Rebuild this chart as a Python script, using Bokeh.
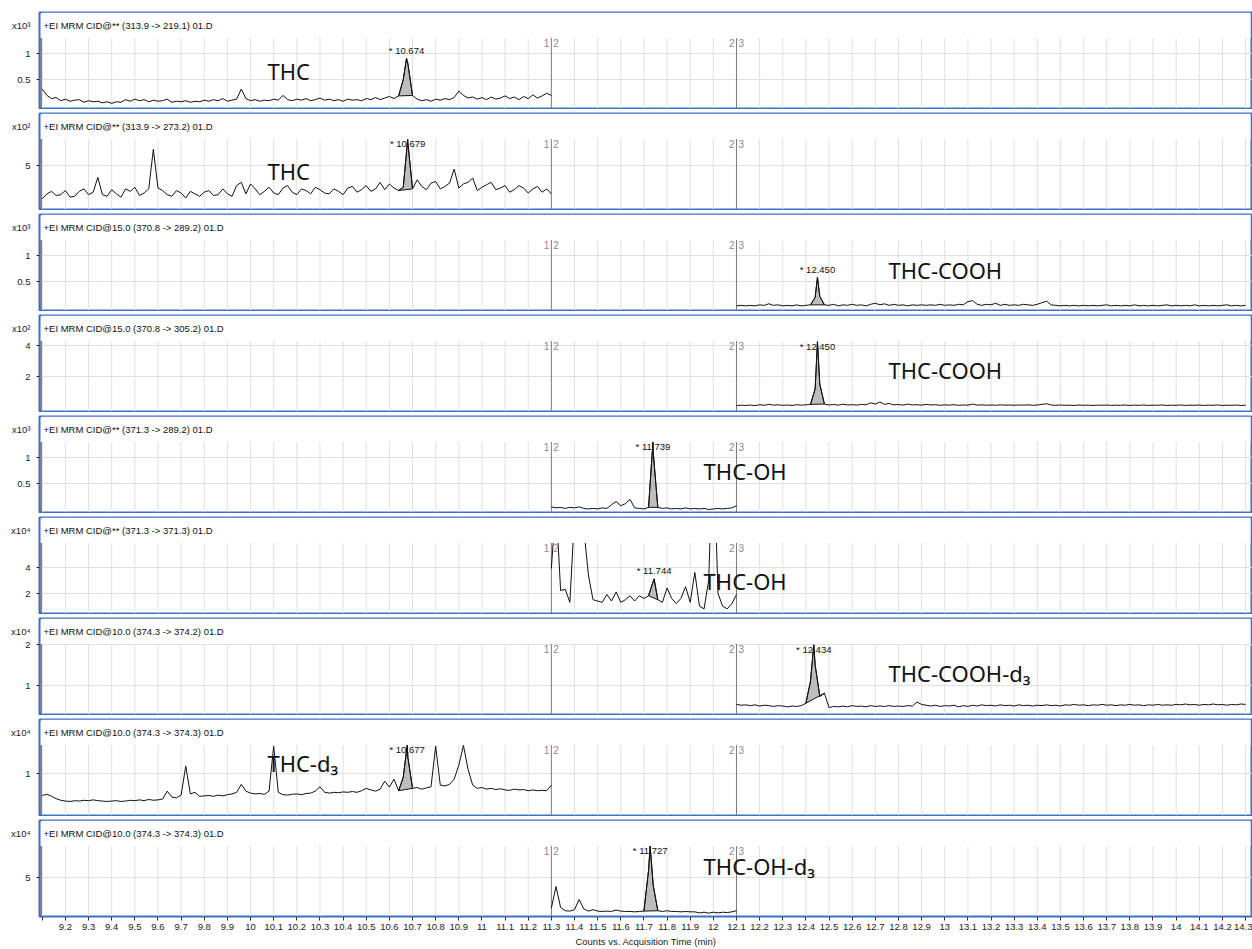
import numpy as np
from bokeh.plotting import figure
from bokeh.layouts import column
from bokeh.models import Range1d, FixedTicker, CustomJSTickFormatter, Label, BoxAnnotation
from bokeh.embed import file_html
from bokeh.resources import INLINE

# ---------------- data ----------------
channel_labels = [
    "+EI MRM CID@** (313.9 -> 219.1) 01.D",
    "+EI MRM CID@** (313.9 -> 273.2) 01.D",
    "+EI MRM CID@15.0 (370.8 -> 289.2) 01.D",
    "+EI MRM CID@15.0 (370.8 -> 305.2) 01.D",
    "+EI MRM CID@** (371.3 -> 289.2) 01.D",
    "+EI MRM CID@** (371.3 -> 371.3) 01.D",
    "+EI MRM CID@10.0 (374.3 -> 374.2) 01.D",
    "+EI MRM CID@10.0 (374.3 -> 374.3) 01.D",
    "+EI MRM CID@10.0 (374.3 -> 374.3) 01.D",
]
compound_labels = ["THC", "THC", "THC-COOH", "THC-COOH", "THC-OH", "THC-OH",
                   "THC-COOH-d\u2083", "THC-d\u2083", "THC-OH-d\u2083"]
exponent_labels = ["x10\u00b3", "x10\u00b2", "x10\u00b3", "x10\u00b2", "x10\u00b3",
                   "x10\u2074", "x10\u2074", "x10\u2074", "x10\u2074"]
y_ticks = [[0.5, 1], [5], [0.5, 1], [2, 4], [0.5, 1], [2, 4], [1, 2], [1], [5]]
y_low = [-0.047, -0.30, -0.047, -0.26, -0.047, 0.44, 0.27, -0.063, -0.345]
y_high = [1.283, 8.25, 1.283, 4.29, 1.283, 5.86, 2.02, 1.71, 9.39]
segment_of_trace = [1, 1, 3, 3, 2, 2, 3, 1, 2]
segment_start = {1: 9.10, 2: 11.30, 3: 12.10}
sample_step = 0.02

peak_rt = [10.674, 10.679, 12.450, 12.450, 11.739, 11.744, 12.434, 10.677, 11.727]
peak_height = [0.90, 8.2, 0.58, 4.25, 1.28, 3.1, 2.0, 1.70, 9.38]
fill_start = [10.64, 10.64, 12.42, 12.42, 11.72, 11.72, 12.40, 10.64, 11.70]
fill_end = [10.70, 10.70, 12.48, 12.48, 11.76, 11.76, 12.48, 10.70, 11.76]

segment_bounds = [11.3, 12.1]
segment_names = [("1", "2"), ("2", "3")]
x_ticks = [round(9.1 + 0.1 * k, 1) for k in range(53)]
x_title = "Counts vs. Acquisition Time (min)"

thc_219 = [
    0.32, 0.20, 0.14, 0.16, 0.10, 0.13, 0.09, 0.11, 0.12, 0.07,
    0.10, 0.08, 0.09, 0.06, 0.08, 0.05, 0.08, 0.07, 0.12, 0.09,
    0.13, 0.10, 0.12, 0.08, 0.11, 0.09, 0.10, 0.13, 0.07, 0.09,
    0.08, 0.10, 0.07, 0.09, 0.08, 0.11, 0.09, 0.12, 0.10, 0.14,
    0.09, 0.11, 0.13, 0.32, 0.14, 0.10, 0.12, 0.09, 0.11, 0.10,
    0.13, 0.11, 0.20, 0.12, 0.10, 0.13, 0.11, 0.14, 0.10, 0.12,
    0.15, 0.11, 0.13, 0.10, 0.12, 0.09, 0.13, 0.11, 0.12, 0.10,
    0.14, 0.12, 0.16, 0.12, 0.15, 0.18, 0.14, 0.19, 0.50, 0.80,
    0.20, 0.13, 0.10, 0.12, 0.09, 0.13, 0.11, 0.14, 0.12, 0.16,
    0.28, 0.20, 0.15, 0.17, 0.13, 0.16, 0.12, 0.17, 0.13, 0.15,
    0.19, 0.14, 0.17, 0.12, 0.18, 0.14, 0.21, 0.15, 0.19, 0.24,
    0.20,
]
thc_273 = [
    1.0, 1.6, 1.9, 1.4, 1.5, 2.0, 1.2, 1.3, 1.9, 2.2,
    1.5, 1.8, 3.6, 1.5, 1.3, 2.1, 1.6, 1.2, 2.2, 1.9,
    2.4, 1.4, 1.7, 2.2, 7.0, 2.3, 2.0, 1.5, 1.3, 2.0,
    1.7, 1.1, 1.9, 1.6, 1.3, 1.8, 2.0, 1.4, 1.5, 2.2,
    1.6, 1.3, 2.6, 3.0, 1.6, 2.8, 2.2, 1.5, 1.9, 2.4,
    1.7, 1.5, 2.3, 2.6, 1.8, 1.5, 2.2, 2.0, 1.6, 2.4,
    2.1, 1.7, 1.6, 2.2, 1.9, 1.5, 2.3, 2.5, 1.8, 2.1,
    2.6, 1.9, 2.2, 3.0, 2.1, 2.8, 2.3, 2.0, 2.4, 7.8,
    2.2, 3.3, 2.5, 2.1, 2.9, 3.1, 2.2, 2.5, 2.9, 4.6,
    2.3, 2.8, 3.0, 3.5, 2.0, 2.4, 2.7, 3.0, 2.1, 2.3,
    2.6, 1.8, 2.1, 2.6, 2.3, 1.7, 2.2, 2.5, 1.8, 2.2,
    1.6,
]
thccooh_289 = [
    0.04, 0.05, 0.04, 0.05, 0.04, 0.06, 0.05, 0.08, 0.05, 0.06,
    0.04, 0.05, 0.04, 0.06, 0.04, 0.05, 0.06, 0.20, 0.22, 0.06,
    0.05, 0.07, 0.04, 0.06, 0.05, 0.07, 0.05, 0.06, 0.04, 0.07,
    0.09, 0.06, 0.08, 0.05, 0.07, 0.05, 0.06, 0.04, 0.06, 0.05,
    0.06, 0.05, 0.06, 0.05, 0.07, 0.05, 0.06, 0.05, 0.07, 0.06,
    0.12, 0.14, 0.07, 0.05, 0.07, 0.06, 0.09, 0.05, 0.07, 0.05,
    0.06, 0.05, 0.07, 0.06, 0.05, 0.07, 0.10, 0.13, 0.06, 0.05,
    0.04, 0.05, 0.04, 0.05, 0.04, 0.05, 0.04, 0.05, 0.04, 0.05,
    0.06, 0.04, 0.05, 0.04, 0.05, 0.04, 0.06, 0.04, 0.05, 0.04,
    0.05, 0.04, 0.05, 0.06, 0.04, 0.05, 0.04, 0.05, 0.04, 0.06,
    0.04, 0.05, 0.04, 0.05, 0.04, 0.05, 0.06, 0.04, 0.05, 0.04,
    0.05,
]
thccooh_305 = [
    0.12, 0.15, 0.13, 0.16, 0.12, 0.18, 0.14, 0.20, 0.15, 0.17,
    0.14, 0.16, 0.13, 0.18, 0.15, 0.17, 0.20, 1.20, 1.50, 0.22,
    0.16, 0.19, 0.15, 0.21, 0.16, 0.18, 0.15, 0.20, 0.17, 0.30,
    0.22, 0.35, 0.20, 0.26, 0.17, 0.19, 0.15, 0.22, 0.16, 0.18,
    0.15, 0.20, 0.16, 0.18, 0.14, 0.17, 0.15, 0.18, 0.14, 0.16,
    0.15, 0.22, 0.15, 0.17, 0.14, 0.16, 0.14, 0.17, 0.15, 0.16,
    0.14, 0.16, 0.15, 0.17, 0.14, 0.16, 0.20, 0.24, 0.16, 0.14,
    0.16, 0.14, 0.15, 0.13, 0.16, 0.14, 0.15, 0.13, 0.15, 0.14,
    0.16, 0.13, 0.15, 0.14, 0.16, 0.13, 0.15, 0.14, 0.16, 0.13,
    0.15, 0.14, 0.16, 0.13, 0.15, 0.14, 0.16, 0.13, 0.15, 0.14,
    0.16, 0.13, 0.15, 0.14, 0.16, 0.13, 0.15, 0.14, 0.16, 0.13,
    0.15,
]
thcoh_289 = [
    0.06, 0.04, 0.05, 0.03, 0.05, 0.04, 0.06, 0.03, 0.02, 0.03,
    0.02, 0.04, 0.03, 0.10, 0.16, 0.08, 0.12, 0.20, 0.04, 0.03,
    0.02, 0.05, 1.10, 0.05, 0.03, 0.04, 0.02, 0.03, 0.02, 0.04,
    0.02, 0.03, 0.02, 0.03, 0.01, 0.02, 0.03, 0.02, 0.03, 0.04,
    0.08,
]
thcoh_371 = [
    3.9, 9.0, 2.2, 2.3, 1.3, 8.0, 12.0, 7.0, 3.4, 1.5,
    1.4, 1.3, 1.9, 1.4, 2.1, 1.3, 1.5, 1.8, 1.4, 1.8,
    1.6, 1.8, 2.9, 1.5, 1.3, 2.4, 1.6, 1.2, 1.6, 2.5,
    1.3, 3.6, 1.0, 0.8, 3.0, 14.0, 2.0, 1.0, 0.8, 1.2,
    1.9,
]
thccooh_d3 = [
    0.52, 0.50, 0.51, 0.49, 0.51, 0.48, 0.50, 0.49, 0.47, 0.49,
    0.48, 0.46, 0.48, 0.47, 0.49, 0.55, 1.10, 1.50, 0.72, 0.80,
    0.44, 0.47, 0.46, 0.48, 0.46, 0.49, 0.47, 0.48, 0.46, 0.49,
    0.47, 0.48, 0.47, 0.49, 0.47, 0.48, 0.47, 0.49, 0.48, 0.58,
    0.52, 0.50, 0.48, 0.50, 0.47, 0.49, 0.48, 0.50, 0.46, 0.49,
    0.47, 0.50, 0.48, 0.51, 0.49, 0.50, 0.48, 0.51, 0.49, 0.50,
    0.48, 0.51, 0.49, 0.50, 0.48, 0.50, 0.49, 0.51, 0.49, 0.50,
    0.48, 0.51, 0.50, 0.52, 0.50, 0.51, 0.49, 0.51, 0.50, 0.52,
    0.50, 0.51, 0.49, 0.51, 0.50, 0.52, 0.50, 0.51, 0.49, 0.51,
    0.50, 0.52, 0.50, 0.51, 0.50, 0.52, 0.51, 0.53, 0.51, 0.52,
    0.50, 0.52, 0.51, 0.53, 0.51, 0.52, 0.50, 0.52, 0.51, 0.53,
    0.52,
]
thc_d3 = [
    0.44, 0.47, 0.42, 0.36, 0.32, 0.30, 0.29, 0.31, 0.30, 0.32,
    0.31, 0.33, 0.31, 0.30, 0.29, 0.30, 0.31, 0.29, 0.30, 0.32,
    0.31, 0.33, 0.31, 0.34, 0.32, 0.33, 0.35, 0.55, 0.40, 0.38,
    0.45, 1.18, 0.48, 0.52, 0.42, 0.43, 0.44, 0.42, 0.45, 0.43,
    0.46, 0.48, 0.52, 0.72, 0.55, 0.50, 0.48, 0.49, 0.47, 0.55,
    1.68, 0.52, 0.46, 0.45, 0.47, 0.48, 0.46, 0.49, 0.50, 0.55,
    0.66, 0.52, 0.50, 0.52, 0.51, 0.53, 0.52, 0.54, 0.52, 0.56,
    0.62, 0.58, 0.55, 0.60, 0.80, 0.65, 0.85, 0.56, 0.90, 1.40,
    0.62, 0.64, 0.60, 0.63, 0.66, 1.68, 0.70, 0.68, 0.72, 0.85,
    1.20, 1.70, 1.10, 0.70, 0.62, 0.64, 0.60, 0.62, 0.59, 0.61,
    0.58, 0.57, 0.60, 0.58, 0.59, 0.56, 0.58, 0.56, 0.57, 0.56,
    0.70,
]
thcoh_d3 = [
    0.8, 3.8, 0.9, 0.45, 0.4, 0.6, 2.0, 0.7, 0.4, 0.6,
    0.4, 0.35, 0.4, 0.35, 0.55, 0.4, 0.35, 0.35, 0.3, 0.35,
    0.4, 6.0, 4.0, 0.45, 0.35, 0.45, 0.35, 0.35, 0.3, 0.35,
    0.3, 0.3, 0.15, 0.25, 0.12, 0.25, 0.15, 0.25, 0.2, 0.3,
    0.45,
]
traces = [thc_219, thc_273, thccooh_289, thccooh_305, thcoh_289,
          thcoh_371, thccooh_d3, thc_d3, thcoh_d3]

# ---------------- layout / style ----------------
X0, X1 = 9.088, 14.33
W = 1252
LEFT = 39
FRAME_H = 96.0
DATA_H = 70.5
BLUE = "#3d6fc6"
GRID = "#e0e0e0"
NARROW = "Liberation Sans Narrow, Liberation Sans, Arial"
BIG = "Noto Sans"
label_left = [10.073, 10.073, 12.757, 12.757, 11.958, 11.958, 12.757, 10.073, 11.958]
label_drop = [58, 57, 55, 54, 54, 63, 54, 43, 45]

x_fmt = CustomJSTickFormatter(
    code="if (Math.abs(tick - 9.1) < 1e-6) { return ''; } return String(Number(tick.toFixed(1)));")

figs = []
for i in range(9):
    first = (i == 0)
    last = (i == 8)
    lo, hi = y_low[i], y_high[i]
    ftop = lo + (hi - lo) * FRAME_H / DATA_H
    upp = (ftop - lo) / FRAME_H
    xupp = (X1 - X0) / (W - LEFT)
    top_b = 12 if first else 4
    bot_b = 33 if last else 1
    p = figure(width=W, height=int(top_b + FRAME_H + bot_b),
               x_range=Range1d(X0, X1), y_range=Range1d(lo, ftop),
               output_backend="svg", toolbar_location=None,
               min_border_left=LEFT, min_border_right=0, min_border_top=top_b,
               min_border_bottom=bot_b,
               x_axis_location=("below" if last else None))
    p.outline_line_color = BLUE
    p.outline_line_width = 2
    p.background_fill_color = "white"
    p.border_fill_color = "white"
    p.xgrid.visible = False
    p.ygrid.ticker = FixedTicker(ticks=y_ticks[i], minor_ticks=[])
    p.ygrid.grid_line_color = GRID

    # y axis: numeric ticks + the scale-exponent label in the header band
    band = ftop - 13 * upp
    yax = p.yaxis[0]
    yax.ticker = FixedTicker(ticks=y_ticks[i] + [band], minor_ticks=y_ticks[i])
    yax.formatter = CustomJSTickFormatter(
        args=dict(band=band, lab=exponent_labels[i]),
        code="if (Math.abs(tick - band) < 1e-9) { return lab; } return String(Number(tick.toFixed(2)));")
    yax.bounds = (lo, ftop)
    yax.axis_line_color = None
    yax.major_tick_out = 0
    yax.major_tick_in = 0
    yax.minor_tick_out = 3
    yax.minor_tick_in = 0
    yax.minor_tick_line_color = "#222222"
    yax.major_label_standoff = 6
    yax.major_label_text_font = NARROW
    yax.major_label_text_font_size = "9.5px"
    yax.major_label_text_color = "#222222"

    if last:
        xax = p.xaxis[0]
        xax.ticker = FixedTicker(ticks=x_ticks, minor_ticks=[])
        xax.formatter = x_fmt
        xax.axis_line_color = None
        xax.major_tick_out = 4
        xax.major_tick_in = 0
        xax.major_tick_line_color = "#333333"
        xax.major_label_standoff = 3
        xax.major_label_text_font = NARROW
        xax.major_label_text_font_size = "9.5px"
        xax.major_label_text_color = "#222222"
        xax.axis_label = x_title
        xax.axis_label_standoff = 3
        xax.axis_label_text_font = NARROW
        xax.axis_label_text_font_size = "9.5px"
        xax.axis_label_text_font_style = "normal"
        xax.axis_label_text_color = "#222222"

    # vertical grid lines limited to the data area
    vg = [t for t in x_ticks if all(abs(t - b) > 1e-6 for b in segment_bounds)]
    p.segment(x0=vg, y0=[lo] * len(vg), x1=vg, y1=[hi] * len(vg),
              line_color=GRID, line_width=1)
    # segment boundaries
    p.segment(x0=segment_bounds, y0=[lo] * 2, x1=segment_bounds, y1=[hi] * 2,
              line_color="#7a7a7a", line_width=1)
    # dark y-axis line along the data area
    p.segment(x0=[X0 + 1.6 * xupp], y0=[lo], x1=[X0 + 1.6 * xupp], y1=[hi],
              line_color="#333333", line_width=1)

    # trace
    vals = np.array(traces[i], dtype=float)
    t = np.round(segment_start[segment_of_trace[i]] + sample_step * np.arange(len(vals)), 3)
    t = np.append(t, peak_rt[i])
    vals = np.append(vals, peak_height[i])
    order = np.argsort(t, kind="stable")
    t, vals = t[order], vals[order]

    m = (t >= fill_start[i] - 1e-6) & (t <= fill_end[i] + 1e-6)
    p.patch(list(t[m]), list(vals[m]), fill_color="#bdbdbd", line_color="#111111",
            line_width=1)
    p.line(list(t), list(vals), line_color="#111111", line_width=1)

    # mask area above data top (header band)
    p.add_layout(BoxAnnotation(bottom=hi, left=X0 + 2 * xupp, right=X1 - 2 * xupp,
                               fill_color="white", fill_alpha=1.0, line_alpha=0.0))

    for b, (l, r) in zip(segment_bounds, segment_names):
        p.add_layout(Label(x=b, y=hi, text=l, text_align="right", text_baseline="top",
                           x_offset=-2, y_offset=-1, text_font=NARROW,
                           text_font_size="10px", text_color="#8a8a8a"))
        p.add_layout(Label(x=b, y=hi, text=r, text_align="left", text_baseline="top",
                           x_offset=2, y_offset=-1, text_font=NARROW,
                           text_font_size="10px", text_color="#8a8a8a"))

    # peak label
    clipped = peak_height[i] >= 0.95 * hi
    p.add_layout(Label(x=peak_rt[i], y=min(peak_height[i], hi),
                       text="* %.3f" % peak_rt[i], text_align="center",
                       text_baseline="middle", y_offset=(-4.5 if clipped else 8),
                       text_font=NARROW, text_font_size="9.5px", text_color="#111111"))

    # channel label
    p.add_layout(Label(x=4, y=FRAME_H - 13, x_units="screen", y_units="screen",
                       text=channel_labels[i], text_baseline="middle",
                       text_font=NARROW, text_font_size="9.5px", text_color="#111111"))

    # compound name
    p.add_layout(Label(x=label_left[i], y=FRAME_H - label_drop[i], y_units="screen",
                       text=compound_labels[i], text_baseline="middle",
                       text_font=BIG, text_font_size="22px", text_color="#111111"))
    figs.append(p)

layout = column(*figs, spacing=0)
open("out.html", "w").write(file_html(layout, INLINE, title="MRM chromatograms"))
